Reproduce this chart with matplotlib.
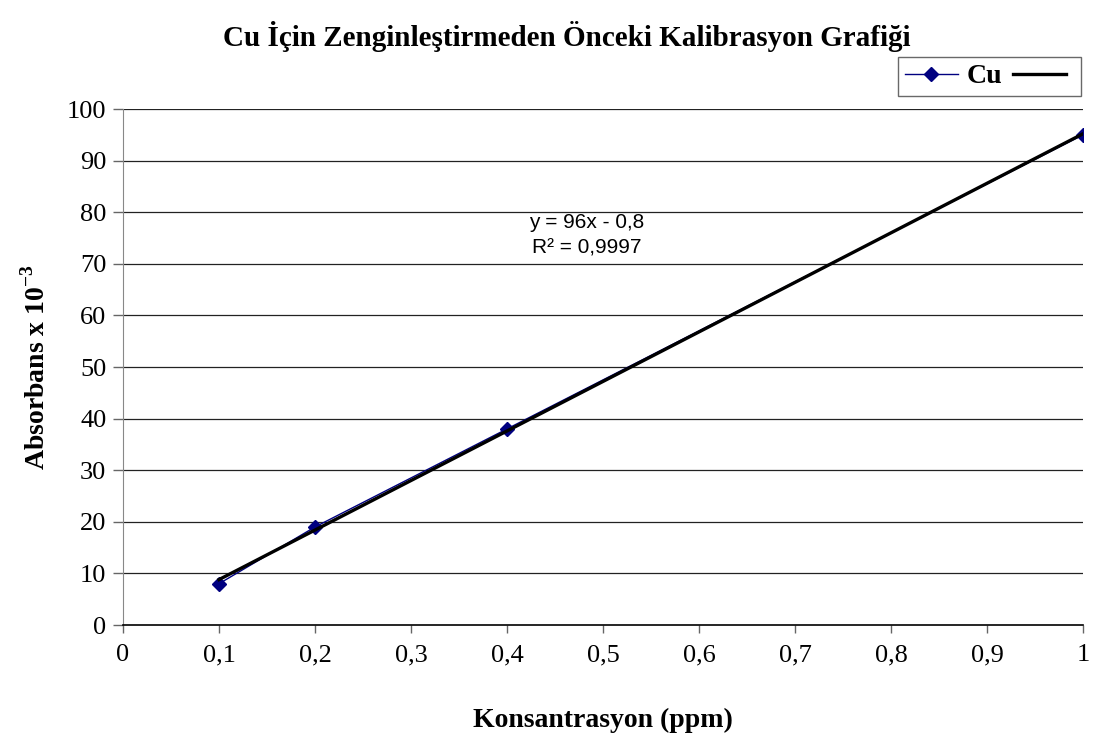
import matplotlib
matplotlib.use('Agg')
import matplotlib.pyplot as plt
import numpy as np
from matplotlib.lines import Line2D

# data
konsantrasyon = [0.1, 0.2, 0.4, 1.0]
absorbans = [8, 19, 38, 95]
egim, kesim = 96, -0.8
x_ticks = [0, 0.1, 0.2, 0.3, 0.4, 0.5, 0.6, 0.7, 0.8, 0.9, 1.0]
x_labels = ['0', '0,1', '0,2', '0,3', '0,4', '0,5', '0,6', '0,7', '0,8', '0,9', '1']
y_ticks = list(range(0, 101, 10))

SERIF = ['Liberation Serif', 'DejaVu Serif']
SANS = ['Liberation Sans', 'DejaVu Sans']
NAVY = '#000080'

plt.rcParams['mathtext.fontset'] = 'custom'
plt.rcParams['mathtext.rm'] = 'Liberation Serif'
plt.rcParams['mathtext.bf'] = 'Liberation Serif:bold'

fig = plt.figure(figsize=(10.99, 7.46), dpi=100)
ax = fig.add_axes([123 / 1099, 1 - 625 / 746, 960 / 1099, 516 / 746])

for y in y_ticks[1:]:
    ax.axhline(y, color='#222222', lw=0.9, zorder=1)

# measured points + linear trendline
ax.plot(konsantrasyon, absorbans, color=NAVY, lw=1, marker='D', ms=7,
        mfc=NAVY, mec=NAVY, zorder=3)
tx = np.array([konsantrasyon[0], konsantrasyon[-1]])
ax.plot(tx, egim * tx + kesim, color='black', lw=2.4, zorder=4)

ax.text(0.483, 78.1, 'y = 96x - 0,8', family=SANS, fontsize=15,
        ha='center', va='center')
ax.text(0.483, 73.1, 'R² = 0,9997', family=SANS, fontsize=15,
        ha='center', va='center')

ax.set_xlim(0, 1)
ax.set_ylim(0, 100)
ax.set_xticks(x_ticks)
ax.set_xticklabels(x_labels)
ax.set_yticks(y_ticks)
for lab in ax.get_xticklabels() + ax.get_yticklabels():
    lab.set_family(SERIF)
    lab.set_fontsize(19)
ax.tick_params(axis='x', direction='out', length=6, width=1, color='#666666', pad=8)
ax.tick_params(axis='y', direction='out', length=7, width=1, color='#666666', pad=5)

for s in ('top', 'right'):
    ax.spines[s].set_visible(False)
ax.spines['left'].set_color('#888888')
ax.spines['bottom'].set_color('black')
ax.spines['bottom'].set_linewidth(1.2)

ax.set_xlabel('Konsantrasyon (ppm)', family=SERIF, fontsize=20, fontweight='bold', labelpad=30)
ax.set_ylabel('Absorbans x 10$^{\\mathbf{-3}}$', family=SERIF, fontsize=20,
              fontweight='bold', labelpad=12)

fig.text(567 / 1099, 1 - 37 / 746, 'Cu İçin Zenginleştirmeden Önceki Kalibrasyon Grafiği',
         family=SERIF, fontsize=21, fontweight='bold', ha='center', va='center')

handles = [Line2D([], [], color=NAVY, lw=1, marker='D', ms=7, mfc=NAVY, mec=NAVY),
           Line2D([], [], color='black', lw=2.4)]
leg = fig.legend(handles, ['Cu', ''], loc='upper right', bbox_to_anchor=(1081 / 1099, 1 - 57 / 746),
                 ncol=2, frameon=True, fancybox=False, borderpad=0.25, borderaxespad=0,
                 columnspacing=0.4, handletextpad=0.3, handlelength=1.9,
                 prop={'family': SERIF, 'size': 20, 'weight': 'bold'})
leg.get_frame().set_edgecolor('#444444')
leg.get_frame().set_linewidth(1)

fig.savefig('out.png', dpi=100)
